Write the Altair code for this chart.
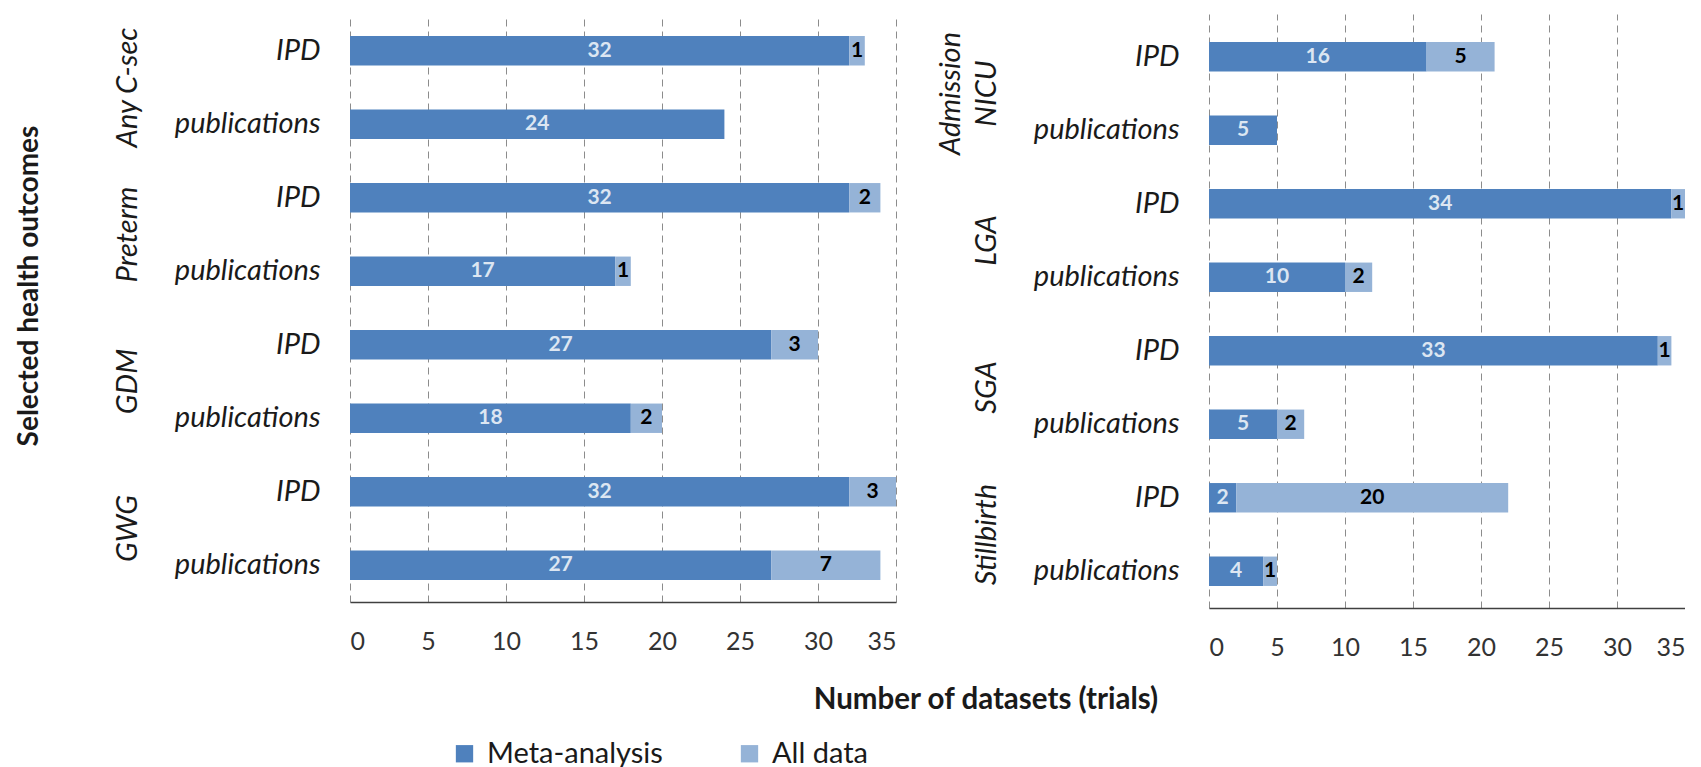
import altair as alt
import pandas as pd

# ---------------- data ----------------
sources = ["IPD", "publications"]
series = ["Meta-analysis", "All data"]
series_colors = ["#4F81BD", "#95B3D7"]
x_ticks = [0, 5, 10, 15, 20, 25, 30, 35]

left_groups = ["Any C-sec", "Preterm", "GDM", "GWG"]
left_meta = [32, 24, 32, 17, 27, 18, 32, 27]
left_all = [1, 0, 2, 1, 3, 2, 3, 7]

right_groups = ["Admission\nNICU", "LGA", "SGA", "Stillbirth"]
right_meta = [16, 5, 34, 10, 33, 5, 2, 4]
right_all = [5, 0, 1, 2, 1, 2, 20, 1]

y_title = "Selected health outcomes"
x_title = "Number of datasets (trials)"

FONT = "Lato"
STEP = 73.5
LEFT_H = 588
RIGHT_H = 594


def build_rows(groups, meta, alld):
    rows, keys = [], []
    for gi, g in enumerate(groups):
        for si, s in enumerate(sources):
            i = gi * 2 + si
            key = f"{g}|{s}"
            keys.append(key)
            rows.append(dict(key=key, group=g, source=s, series=series[0], value=meta[i], order=0))
            rows.append(dict(key=key, group=g, source=s, series=series[1], value=alld[i], order=1))
    return pd.DataFrame(rows), keys


def panel(groups, meta, alld, width, height, pad_outer, band_align, with_titles):
    df, keys = build_rows(groups, meta, alld)
    ysc = alt.Scale(domain=keys, paddingInner=0.6, paddingOuter=pad_outer, align=band_align)
    yenc = alt.Y(
        "key:N",
        scale=ysc,
        sort=keys,
        axis=alt.Axis(
            title=None,
            labelExpr="split(datum.label, '|')[1]",
            labelFont=FONT,
            labelFontSize=29,
            labelFontStyle="italic",
            labelColor="#1a1a1a",
            labelPadding=30,
            labelLimit=400,
            ticks=False,
            domain=False,
            grid=False,
        ),
    )
    xsc = alt.Scale(domain=[0, 35], nice=False, zero=True)
    xenc = alt.X(
        "v0:Q",
        scale=xsc,
        axis=alt.Axis(
            title=None,
            values=x_ticks,
            grid=True,
            gridDash=[7, 5],
            gridColor="#8c8c8c",
            gridWidth=1,
            domainColor="#404040",
            domainWidth=1.5,
            ticks=False,
            labelFont=FONT,
            labelFontSize=25,
            labelColor="#333333",
            labelPadding=27,
        ),
    )
    base = alt.Chart(df).transform_stack(
        stack="value",
        groupby=["key"],
        sort=[alt.SortField(field="order", order="ascending")],
        as_=["v0", "v1"],
    ).transform_calculate(mid="(datum.v0 + datum.v1) / 2")

    bars = base.mark_bar().encode(
        x=xenc,
        x2="v1:Q",
        y=yenc,
        color=alt.Color(
            "series:N",
            scale=alt.Scale(domain=series, range=series_colors),
            legend=alt.Legend(
                title=None,
                orient="none",
                direction="horizontal",
                legendX=100,
                legendY=725,
                symbolType="square",
                symbolSize=300,
                symbolStrokeWidth=0,
                labelFont=FONT,
                labelFontSize=29,
                labelColor="#1a1a1a",
                labelOffset=8,
                labelLimit=0,
                columnPadding=72,
                padding=0,
            ),
        ),
    )
    labels = base.transform_filter("datum.value > 0").mark_text(
        font=FONT, fontSize=21, fontWeight="bold"
    ).encode(
        x=alt.X("mid:Q", scale=xsc),
        y=yenc,
        text="value:Q",
        color=alt.condition(
            "datum.series == 'Meta-analysis'", alt.value("#DCE6F2"), alt.value("#000000")
        ),
    )
    gdf = pd.DataFrame({"group": groups, "key": [f"{g}|IPD" for g in groups]})
    gstyle = dict(
        angle=270,
        align="center",
        baseline="bottom",
        lineBreak="\n",
        lineHeight=36,
        font=FONT,
        fontSize=29,
        fontStyle="italic",
        color="#1a1a1a",
        yOffset=STEP / 2,
    )
    gbase = alt.Chart(gdf)
    g_single = gbase.transform_filter("indexof(datum.group, '\\n') < 0").mark_text(**gstyle).encode(
        x=alt.value(-207), y=yenc, text="group:N"
    )
    g_multi = gbase.transform_filter("indexof(datum.group, '\\n') >= 0").mark_text(**gstyle).encode(
        x=alt.value(-207 - 36), y=yenc, text="group:N"
    )

    layers = [bars, labels, g_single, g_multi]
    if with_titles:
        ydf = pd.DataFrame({"t": [y_title]})
        ytxt = alt.Chart(ydf).mark_text(
            angle=270, align="center", baseline="middle", font=FONT, fontSize=28,
            fontWeight="bold", color="#1a1a1a",
        ).encode(x=alt.value(-320), y=alt.value(272), text="t:N")
        xdf = pd.DataFrame({"t": [x_title]})
        xtxt = alt.Chart(xdf).mark_text(
            align="center", baseline="middle", font=FONT, fontSize=29.5,
            fontWeight="bold", color="#1a1a1a",
        ).encode(x=alt.value(636), y=alt.value(686), text="t:N")
        layers += [ytxt, xtxt]
    return alt.layer(*layers).properties(width=width, height=height)


left = panel(left_groups, left_meta, left_all, 546, LEFT_H, 0.3, 0.5, True)
right = panel(right_groups, right_meta, right_all, 476, RIGHT_H, 0.341, 0.56, False)

chart = alt.hconcat(left, right, spacing=313, bounds="flush").properties(
    padding={"left": 8, "top": 6, "right": 0, "bottom": 0},
    background="white",
).configure_view(stroke=None)

chart.save("out.html", embed_options={"renderer": "svg", "actions": False})
